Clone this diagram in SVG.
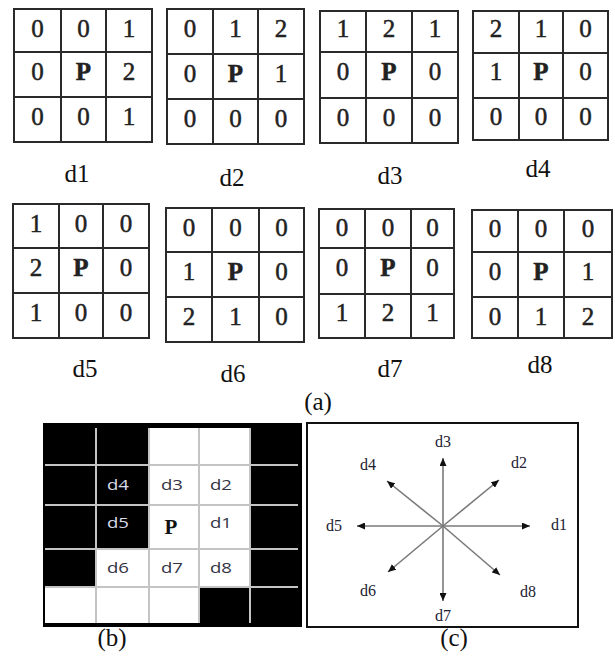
<svg xmlns="http://www.w3.org/2000/svg" width="615" height="657" viewBox="0 0 615 657">
<style>
.g{fill:#fff;stroke:#2a2a2a;stroke-width:2}
.l{stroke:#2a2a2a;stroke-width:2}
.n{font-family:"Liberation Serif",serif;font-size:25px;fill:#222;stroke:#222;stroke-width:0.5;text-anchor:middle}
.p{font-weight:bold}
.lab{font-family:"Liberation Serif",serif;font-size:25px;fill:#111;text-anchor:middle}
.bl{font-family:"Open Sans","Liberation Sans",sans-serif;font-size:15px;text-anchor:middle}
.bw{fill:#d8dcea}
.bd{fill:#333344}
.gl{stroke:#c4c4c4;stroke-width:2}
.cl{font-family:"Liberation Serif",serif;font-size:16px;fill:#222233;text-anchor:middle}
.ar{stroke:#7a7a7a;stroke-width:1.6;fill:none;marker-end:url(#ah)}
</style>
<defs>
<marker id="ah" markerUnits="userSpaceOnUse" markerWidth="9" markerHeight="7" refX="8" refY="3.5" orient="auto">
<path d="M0,0 L8,3.5 L0,7 z" fill="#111"/>
</marker>
</defs>
<rect width="615" height="657" fill="#fff"/>

<g id="grid-d1">
<rect class="g" x="14" y="9" width="138" height="133"/>
<path class="l" d="M61,9V142M106,9V142M14,52H152M14,97H152"/>
<text class="n" x="37.5" y="37">0</text><text class="n" x="83.5" y="37">0</text><text class="n" x="129" y="37">1</text>
<text class="n" x="37.5" y="80">0</text><text class="n p" x="83.5" y="80">P</text><text class="n" x="129" y="80">2</text>
<text class="n" x="37.5" y="125">0</text><text class="n" x="83.5" y="125">0</text><text class="n" x="129" y="125">1</text>
<text class="lab" x="77" y="182">d1</text>
</g>

<g id="grid-d2">
<rect class="g" x="167" y="9" width="137" height="135"/>
<path class="l" d="M213,9V144M258,9V144M167,54H304M167,99H304"/>
<text class="n" x="190" y="37">0</text><text class="n" x="235.5" y="37">1</text><text class="n" x="281" y="37">2</text>
<text class="n" x="190" y="82">0</text><text class="n p" x="235.5" y="82">P</text><text class="n" x="281" y="82">1</text>
<text class="n" x="190" y="127">0</text><text class="n" x="235.5" y="127">0</text><text class="n" x="281" y="127">0</text>
<text class="lab" x="232" y="186">d2</text>
</g>

<g id="grid-d3">
<rect class="g" x="320" y="11" width="138" height="132"/>
<path class="l" d="M366,11V143M412,11V143M320,52H458M320,98H458"/>
<text class="n" x="343" y="37">1</text><text class="n" x="389" y="37">2</text><text class="n" x="435" y="37">1</text>
<text class="n" x="343" y="80">0</text><text class="n p" x="389" y="80">P</text><text class="n" x="435" y="80">0</text>
<text class="n" x="343" y="126">0</text><text class="n" x="389" y="126">0</text><text class="n" x="435" y="126">0</text>
<text class="lab" x="390" y="184">d3</text>
</g>

<g id="grid-d4">
<rect class="g" x="473" y="11" width="135" height="129"/>
<path class="l" d="M519,11V140M563,11V140M473,53H608M473,98H608"/>
<text class="n" x="496" y="37">2</text><text class="n" x="541" y="37">1</text><text class="n" x="585.5" y="37">0</text>
<text class="n" x="496" y="80">1</text><text class="n p" x="541" y="80">P</text><text class="n" x="585.5" y="80">0</text>
<text class="n" x="496" y="125">0</text><text class="n" x="541" y="125">0</text><text class="n" x="585.5" y="125">0</text>
<text class="lab" x="538" y="177">d4</text>
</g>

<g id="grid-d5">
<rect class="g" x="13" y="204" width="136" height="134"/>
<path class="l" d="M59,204V338M103,204V338M13,248H149M13,293H149"/>
<text class="n" x="36" y="232">1</text><text class="n" x="81" y="232">0</text><text class="n" x="126" y="232">0</text>
<text class="n" x="36" y="276">2</text><text class="n p" x="81" y="276">P</text><text class="n" x="126" y="276">0</text>
<text class="n" x="36" y="321">1</text><text class="n" x="81" y="321">0</text><text class="n" x="126" y="321">0</text>
<text class="lab" x="85" y="377">d5</text>
</g>

<g id="grid-d6">
<rect class="g" x="166" y="208" width="138" height="134"/>
<path class="l" d="M212,208V342M259,208V342M166,252H304M166,297H304"/>
<text class="n" x="189" y="236">0</text><text class="n" x="235.5" y="236">0</text><text class="n" x="281.5" y="236">0</text>
<text class="n" x="189" y="280">1</text><text class="n p" x="235.5" y="280">P</text><text class="n" x="281.5" y="280">0</text>
<text class="n" x="189" y="325">2</text><text class="n" x="235.5" y="325">1</text><text class="n" x="281.5" y="325">0</text>
<text class="lab" x="233" y="382">d6</text>
</g>

<g id="grid-d7">
<rect class="g" x="319" y="209" width="135" height="129"/>
<path class="l" d="M365,209V338M411,209V338M319,248H454M319,294H454"/>
<text class="n" x="342" y="236">0</text><text class="n" x="388" y="236">0</text><text class="n" x="432.5" y="236">0</text>
<text class="n" x="342" y="276">0</text><text class="n p" x="388" y="276">P</text><text class="n" x="432.5" y="276">0</text>
<text class="n" x="342" y="321">1</text><text class="n" x="388" y="321">2</text><text class="n" x="432.5" y="321">1</text>
<text class="lab" x="390" y="377">d7</text>
</g>

<g id="grid-d8">
<rect class="g" x="472" y="210" width="140" height="128"/>
<path class="l" d="M518,210V338M564,210V338M472,252H612M472,297H612"/>
<text class="n" x="495" y="237">0</text><text class="n" x="541" y="237">0</text><text class="n" x="588" y="237">0</text>
<text class="n" x="495" y="280">0</text><text class="n p" x="541" y="280">P</text><text class="n" x="588" y="280">1</text>
<text class="n" x="495" y="325">0</text><text class="n" x="541" y="325">1</text><text class="n" x="588" y="325">2</text>
<text class="lab" x="540" y="373">d8</text>
</g>

<text id="cap-a" class="lab" x="318" y="410">(a)</text>

<g id="panel-b">
<rect x="43" y="423" width="259" height="204" fill="#000"/>
<rect x="149" y="428" width="101" height="159" fill="#fff"/>
<rect x="96" y="549" width="53" height="38" fill="#fff"/>
<rect x="45" y="587" width="154" height="36" fill="#fff"/>
<path class="gl" d="M96,428V623M149,428V623M199,428V623M250,428V623M45,465H298M45,505H298M45,549H298M45,587H298"/>
<text class="bl bw" x="118" y="490" textLength="22" lengthAdjust="spacingAndGlyphs">d4</text>
<text class="bl bd" x="172" y="490" textLength="22" lengthAdjust="spacingAndGlyphs">d3</text>
<text class="bl bd" x="221" y="490" textLength="22" lengthAdjust="spacingAndGlyphs">d2</text>
<text class="bl bw" x="118" y="528" textLength="22" lengthAdjust="spacingAndGlyphs">d5</text>
<text x="171" y="534" style="font-family:'Liberation Serif',serif;font-size:21px;font-weight:bold;fill:#111;text-anchor:middle">P</text>
<text class="bl bd" x="221" y="528" textLength="22" lengthAdjust="spacingAndGlyphs">d1</text>
<text class="bl bd" x="118" y="573" textLength="22" lengthAdjust="spacingAndGlyphs">d6</text>
<text class="bl bd" x="172" y="573" textLength="22" lengthAdjust="spacingAndGlyphs">d7</text>
<text class="bl bd" x="221" y="573" textLength="22" lengthAdjust="spacingAndGlyphs">d8</text>
</g>
<text id="cap-b" class="lab" x="112" y="646">(b)</text>

<g id="panel-c">
<rect x="307" y="423" width="271" height="204" fill="#fff" stroke="#111" stroke-width="2"/>
<text class="cl" x="443" y="447">d3</text>
<text class="cl" x="519" y="468">d2</text>
<text class="cl" x="368" y="470">d4</text>
<text class="cl" x="334" y="531">d5</text>
<text class="cl" x="559" y="530">d1</text>
<text class="cl" x="368" y="596">d6</text>
<text class="cl" x="528" y="597">d8</text>
<text class="cl" x="443" y="621">d7</text>
</g>
<g id="connectors">
<path class="ar" d="M443,526L443,458"/>
<path class="ar" d="M443,526L443,601"/>
<path class="ar" d="M443,526L357,526"/>
<path class="ar" d="M443,526L530,526"/>
<path class="ar" d="M443,526L499,480"/>
<path class="ar" d="M443,526L387,481"/>
<path class="ar" d="M443,526L388,572"/>
<path class="ar" d="M443,526L500,575"/>
</g>
<text id="cap-c" class="lab" x="454" y="646">(c)</text>
</svg>
